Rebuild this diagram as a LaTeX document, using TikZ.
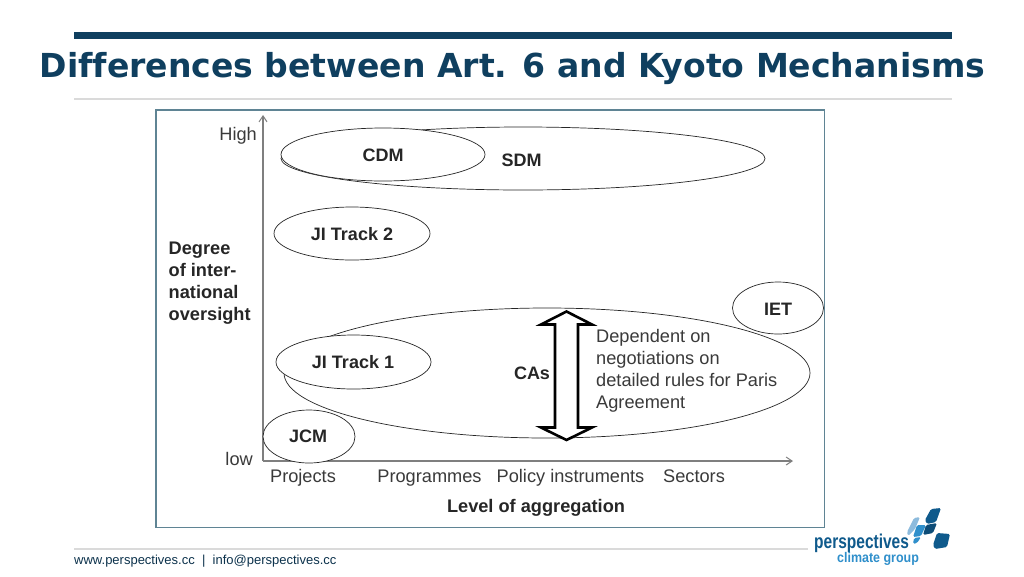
\documentclass[tikz,border=0pt]{standalone}
\usepackage{fontspec}
\usepackage{graphicx}
\setmainfont{Liberation Sans}
\newfontfamily\titlefont[Ligatures=NoCommon]{DejaVu Sans}
\usetikzlibrary{shapes.geometric,arrows.meta}
\definecolor{navy}{HTML}{0F3F5F}
\definecolor{frameblue}{HTML}{5F8494}
\definecolor{rulegray}{HTML}{DADADA}
\definecolor{axisgray}{HTML}{7F7F7F}
\definecolor{txtgray}{HTML}{3A3A3A}
\definecolor{logodark}{HTML}{0F5A8C}
\definecolor{logomid}{HTML}{2F8FCB}
\definecolor{logolight}{HTML}{8DBBDD}
\tikzset{
  oval/.style={draw=black!85,line width=0.7pt,ellipse,inner sep=0pt},
  boldlabel/.style={font=\bfseries\fontsize{18}{18}\selectfont,text=black!85,inner sep=0pt},
  plainlabel/.style={font=\fontsize{18.2}{21.9}\selectfont,text=txtgray,inner sep=0pt},
  axisline/.style={draw=axisgray,line width=1.2pt,-{Straight Barb[length=6pt,width=8pt,line width=1pt]}},
  logotile/.style={rounded corners=1.5pt,draw=none}
}
\begin{document}
\begin{tikzpicture}[x=1pt,y=-1pt]
\useasboundingbox (0,0) rectangle (1024,576);
\fill[white] (0,0) rectangle (1024,576);
% header
\fill[navy] (74,32) rectangle (952,38.5);
\node[inner sep=0pt,text=navy] (title) at (512.5,69) {\titlefont\bfseries\fontsize{33.05}{36}\selectfont Differences between Art. 6 and Kyoto Mechanisms};
\fill[rulegray] (74,97.5) rectangle (952,99.5);
% frame
\draw[frameblue,line width=1.2pt] (156,110) rectangle (824.5,527.5);
% axes
\coordinate (origin) at (263,461);
\coordinate (ytop) at (263,115);
\coordinate (xend) at (793,461);
\draw[axisline] (origin) -- (ytop);
\draw[axisline] (origin) -- (xend);
% ovals
\node[oval,minimum width=484pt,minimum height=63pt] (sdm) at (523,158.5) {};
\node[oval,fill=white,minimum width=204pt,minimum height=53pt] (cdm) at (383,154.5) {};
\node[oval,minimum width=156pt,minimum height=53pt] (jit2) at (352,233.5) {};
\node[oval,minimum width=526pt,minimum height=130pt] (cas) at (547,373) {};
\node[oval,fill=white,minimum width=155pt,minimum height=54pt] (jit1) at (353.5,362) {};
\node[oval,fill=white,minimum width=92pt,minimum height=53pt] (jcm) at (309,436.5) {};
\node[oval,fill=white,minimum width=91pt,minimum height=52pt] (iet) at (778,308) {};
% oval labels
\node[boldlabel] (lcdm) at (383,155) {CDM};
\node[boldlabel] (lsdm) at (521.5,160) {SDM};
\node[boldlabel] (ljit2) at (352,234) {JI Track 2};
\node[boldlabel] (ljit1) at (353,362.5) {JI Track 1};
\node[boldlabel] (ljcm) at (308,436.5) {JCM};
\node[boldlabel] (liet) at (778,309.5) {IET};
\node[boldlabel] (lcas) at (532,373.5) {CAs};
% double arrow
\draw[black,line width=2.6pt,fill=white,miter limit=10]
  (566.5,311.5) -- (592,324.5) -- (578,324.5) -- (578,427.5) -- (592,427.5)
  -- (566.5,440) -- (541,427.5) -- (555,427.5) -- (555,324.5) -- (541,324.5) -- cycle;
% texts
\node[plainlabel,align=left,anchor=west] (dep) at (596,370.5) {Dependent on\\negotiations on\\detailed rules for Paris\\Agreement};
\node[font=\bfseries\fontsize{18.2}{21.9}\selectfont,text=black!85,align=left,anchor=west,inner sep=0pt] (ylab) at (168.5,283.5) {Degree\\of inter-\\national\\oversight};
\node[plainlabel,anchor=base east] (high) at (257,140) {High};
\node[plainlabel,anchor=base east] (low) at (253,465) {low};
\node[plainlabel,anchor=base] (x1) at (303,482) {Projects};
\node[plainlabel,anchor=base] (x2) at (429.5,482) {Programmes};
\node[plainlabel,anchor=base] (x3) at (570.5,482) {Policy instruments};
\node[plainlabel,anchor=base] (x4) at (694,482) {Sectors};
\node[boldlabel,font=\bfseries\fontsize{18.2}{22}\selectfont] (xlab) at (536,507.5) {Level of aggregation};
% footer
\fill[rulegray] (74,548) rectangle (808,550);
\node[inner sep=0pt,anchor=west,text=navy!80!black,font=\fontsize{13}{14}\selectfont] (foot) at (74,561) {www.perspectives.cc \ | \ info@perspectives.cc};
% logo
\fill[logolight,logotile] (914,518) -- (920,517) -- (915,529) -- (908,536) -- (907,532) -- cycle;
\fill[logomid,logotile] (917,525) -- (926,525) -- (921,536) -- (913,537) -- cycle;
\fill[logomid,logotile] (914,538) -- (921,537) -- (917,543) -- (913,544) -- cycle;
\fill[logodark,logotile] (931,509) -- (941,508) -- (936,522) -- (927,524) -- (925,520) -- cycle;
\fill[logodark!85!black,logotile] (926,525) -- (937,523) -- (933,533) -- (923,535) -- cycle;
\fill[logodark,logotile] (937,533) -- (950,534) -- (947,547) -- (935,549) -- (933,545) -- cycle;
\node[inner sep=0pt,anchor=base west,text=logodark] (lg1) at (814,548.5) {\scalebox{0.775}[1]{\bfseries\fontsize{20}{21}\selectfont perspectives}};
\node[inner sep=0pt,anchor=base west,text=logomid] (lg2) at (837,562) {\scalebox{0.89}[1]{\bfseries\fontsize{14}{15}\selectfont climate group}};
\end{tikzpicture}
\end{document}
